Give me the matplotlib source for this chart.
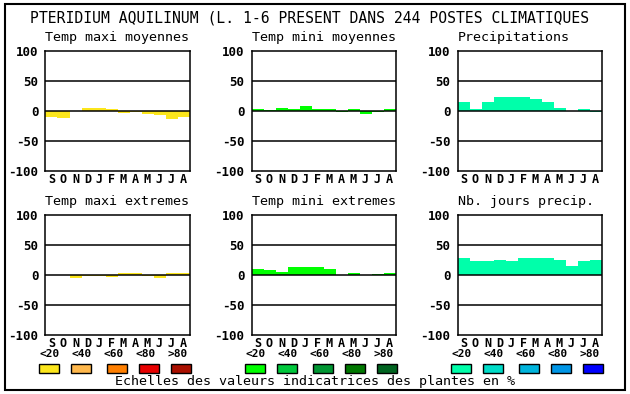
import matplotlib
matplotlib.use("Agg")
import matplotlib.pyplot as plt
from matplotlib.patches import Rectangle

# Figure size in pixels, everything below is laid out in pixel units
W, H = 630, 394

months = ["S", "O", "N", "D", "J", "F", "M", "A", "M", "J", "J", "A"]

title = "PTERIDIUM AQUILINUM (L. 1-6 PRESENT DANS 244 POSTES CLIMATIQUES"
panel_titles = ["Temp maxi moyennes", "Temp mini moyennes", "Precipitations",
                "Temp maxi extremes", "Temp mini extremes", "Nb. jours precip."]

# values, one list per panel
temp_maxi_moy = [-11, -13, 0, 5, 3.5, 2, -4, -2, -6, -8, -14, -11]
temp_mini_moy = [3, 1.5, 5, 3, 7, 3, 3, -3, 2, -5, -2, 2]
precip = [15, 3, 15, 23, 23, 22, 20, 15, 5, 0, 2, -3]
temp_maxi_ext = [0, 0, -5, -2, -2, -4, 2, 3, -2, -6, 2, 2]
temp_mini_ext = [10, 7, 5, 13, 12, 12, 10, 0, 3, 0, 1.5, 3]
nb_jours = [27, 22, 22, 25, 23, 27, 27, 27, 25, 15, 22, 25]

yticks = [-100, -50, 0, 50, 100]

scale_labels = ["<20", "<40", "<60", "<80", ">80"]
yellows = ["#FCE61C", "#FFB84C", "#FF7F00", "#E80000", "#AA1000"]
greens = ["#00FF00", "#00C83C", "#009632", "#007800", "#006420"]
blues = ["#00FFAA", "#00DCC8", "#00B4DC", "#0096E6", "#0000FF"]

footer = "Echelles des valeurs indicatrices des plantes en %"

MONO = "DejaVu Sans Mono"


def fx(x):
    return x / W


def fy(y):
    return 1 - y / H


fig = plt.figure(figsize=(W / 100, H / 100), dpi=100)

# outer frame
fig.patches.append(Rectangle((fx(5), fy(390)), fx(620), 386 / H,
                             transform=fig.transFigure, fill=False,
                             lw=1.5, ec="black"))

fig.text(fx(30), fy(18), title, family=MONO, fontsize=10.6,
         ha="left", va="center")

data = [temp_maxi_moy, temp_mini_moy, precip,
        temp_maxi_ext, temp_mini_ext, nb_jours]
bar_colors = [yellows[0], greens[0], blues[0]] * 2
lefts = [45.5, 251.5, 457.5]
tops = [50.5, 214.5]

for i, vals in enumerate(data):
    col, row = i % 3, i // 3
    left, top = lefts[col], tops[row]
    ax = fig.add_axes([fx(left), fy(top + 120), 144 / W, 120 / H])
    ax.bar(range(12), vals, width=1.0, align="edge", color=bar_colors[i],
           lw=0, zorder=1)
    for y in (-50, 0, 50):
        ax.axhline(y, color="black", lw=1.1, zorder=2)
    ax.set_xlim(0, 12)
    ax.set_ylim(-100, 100)
    ax.set_yticks(yticks)
    ax.set_yticklabels([str(t) for t in yticks], family=MONO,
                       fontweight="bold", fontsize=9)
    ax.set_xticks([m + 0.5 for m in range(12)])
    ax.set_xticklabels(months, family=MONO, fontweight="bold", fontsize=8.5)
    ax.tick_params(length=0, axis="y", pad=5)
    ax.tick_params(length=0, axis="x", pad=2)
    for sp in ax.spines.values():
        sp.set_linewidth(1.1)
    fig.text(fx(left), fy(top - 12.5), panel_titles[i], family=MONO,
             fontsize=9.6, ha="left", va="center")

# colour scales under the bottom row
offsets = [0, 32, 68, 100, 132]
for x0, colors in zip([39.3, 245.3, 451.3], [yellows, greens, blues]):
    for k in range(5):
        fig.text(fx(x0 + 10 + 32 * k), fy(354), scale_labels[k], family=MONO,
                 fontweight="bold", fontsize=8, ha="center", va="center")
        fig.patches.append(Rectangle((fx(x0 + offsets[k]), fy(373)),
                                     20 / W, 9 / H,
                                     transform=fig.transFigure,
                                     fc=colors[k], ec="black", lw=1))

fig.text(fx(315), fy(382), footer, family=MONO, fontsize=9.6,
         ha="center", va="center")

fig.savefig("out.png", dpi=100)
